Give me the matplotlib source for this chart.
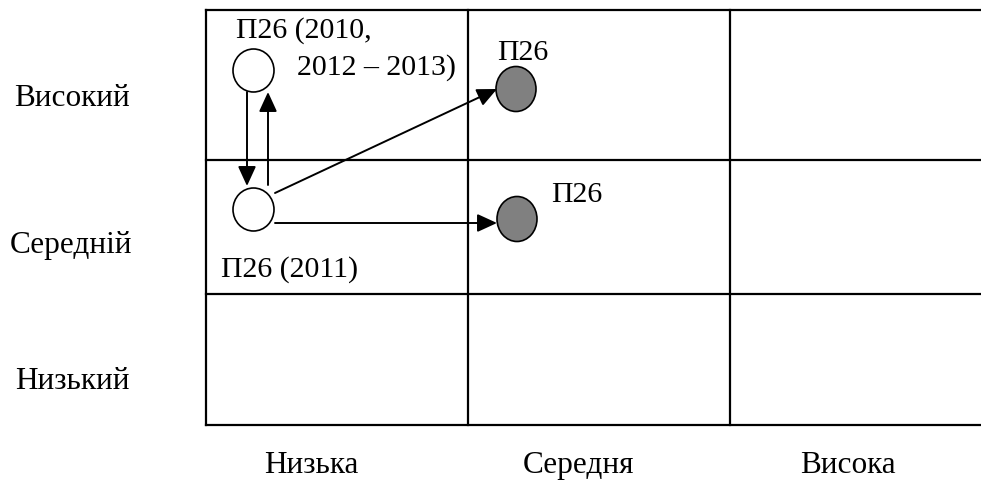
"""Matrix of transitions П26 between quality levels (3x3 grid)."""

import matplotlib.pyplot as plt
from matplotlib.patches import Ellipse, FancyArrowPatch

plt.rcParams['font.family'] = ['Liberation Serif', 'DejaVu Serif']

row_labels = ['Високий', 'Середній', 'Низький']
col_labels = ['Низька', 'Середня', 'Висока']

# nodes: label lines, filled or not
node_names = ['a', 'b', 'c', 'd']
node_texts = [['П26 (2010,', '2012 – 2013)'], ['П26 (2011)'], ['П26'], ['П26']]
node_filled = [False, False, True, True]

# transitions between nodes
transitions = [('a', 'b'), ('b', 'a'), ('b', 'c'), ('b', 'd')]

# layout in pixels (figure is 981 x 485)
W, H = 981, 485
col_edges = [206, 468, 730, 980]
row_edges = [10.5, 161, 295, 426]
row_label_pos = [(72, 98), (71, 246), (72, 382)]
col_label_pos = [(311, 466), (579, 466), (848, 466)]
node_pos = {'a': (253.5, 71.5), 'b': (253.5, 210.5), 'c': (516, 90), 'd': (517, 220)}
node_size = {False: (41, 43), True: (40, 45)}
text_pos = {'a': [(236, 38), (297, 75)], 'b': [(221, 277)], 'c': [(497, 60)], 'd': [(551, 202)]}
arrow_pts = {('a', 'b'): ((247, 93), (247, 187)),
             ('b', 'a'): ((268, 186), (268, 93)),
             ('b', 'c'): ((275, 194), (497, 90)),
             ('b', 'd'): ((275, 224), (497, 224))}

fig = plt.figure(figsize=(W / 100, H / 100), dpi=100)
ax = fig.add_axes([0, 0, 1, 1])
ax.set_xlim(0, W)
ax.set_ylim(H, 0)
ax.axis('off')

lw = 1.6
for x in col_edges[:-1]:
    ax.plot([x, x], [row_edges[0], row_edges[-1]], color='black', lw=lw,
            solid_capstyle='projecting')
for y in row_edges:
    ax.plot([col_edges[0], col_edges[-1]], [y, y], color='black', lw=lw,
            solid_capstyle='projecting')

fs_axis = 22.5
fs_node = 21.5
for lab, (x, y) in zip(row_labels, row_label_pos):
    ax.text(x, y, lab, ha='center', va='center', fontsize=fs_axis)
for lab, (x, y) in zip(col_labels, col_label_pos):
    ax.text(x, y, lab, ha='center', va='center', fontsize=fs_axis)

for name, lines, filled in zip(node_names, node_texts, node_filled):
    w, h = node_size[filled]
    ax.add_patch(Ellipse(node_pos[name], w, h, facecolor='#808080' if filled else 'white',
                         edgecolor='black', lw=1.2, zorder=3))
    for line, (x, y) in zip(lines, text_pos[name]):
        ax.text(x, y, line, ha='left', va='baseline', fontsize=fs_node)

for src, dst in transitions:
    p0, p1 = arrow_pts[(src, dst)]
    ax.add_patch(FancyArrowPatch(p0, p1, arrowstyle='-|>,head_length=12,head_width=5.5',
                                 mutation_scale=1, color='black', lw=1.4,
                                 shrinkA=0, shrinkB=0, zorder=4))

fig.savefig('out.png', dpi=100)
